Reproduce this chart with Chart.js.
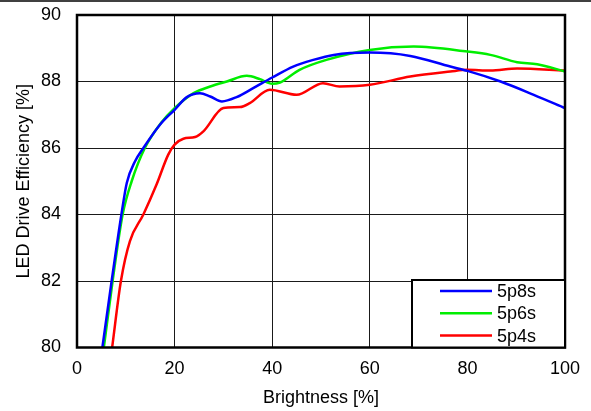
<!DOCTYPE html>
<html lang="en">
<head>
    <meta charset="UTF-8" />
    <title>LED Drive Efficiency</title>
    <script src="https://cdn.jsdelivr.net/npm/chart.js"></script>
    <style>
        body { margin: 0; background: #fff; }
    </style>
</head>
<body>
    <canvas id="effChart" width="591" height="411"></canvas>

    <script>
        // values
        const brightness5p8s = [5.2, 7.1, 9.1, 10.2, 11.9, 13.6, 17.0, 20.0, 22.5, 25.2, 27.3, 29.7, 32.7, 36.1, 40.0, 44.3, 48.4, 52.6, 60.0, 68.3, 76.5, 80.0, 86.8, 93.6, 100];
        const eff5p8s = [80.0, 82.0, 84.0, 84.95, 85.6, 86.0, 86.7, 87.15, 87.53, 87.65, 87.55, 87.4, 87.53, 87.8, 88.12, 88.45, 88.65, 88.8, 88.87, 88.77, 88.45, 88.32, 88.0, 87.6, 87.2];

        const brightness5p6s = [5.5, 7.3, 9.35, 11.2, 13.9, 17.2, 20.0, 23.9, 27.3, 30.7, 34.8, 37.5, 40.0, 41.6, 45.6, 51.1, 60.0, 69.0, 80.0, 84.7, 90.2, 94.3, 100];
        const eff5p6s = [80.0, 82.0, 84.0, 85.0, 86.0, 86.75, 87.2, 87.65, 87.85, 88.0, 88.17, 88.07, 87.93, 87.97, 88.35, 88.65, 88.95, 89.05, 88.9, 88.8, 88.58, 88.52, 88.3];

        const brightness5p4s = [7.2, 9.0, 10.85, 13.6, 16.3, 18.7, 20.0, 21.8, 24.2, 25.9, 30.0, 33.4, 35.4, 39.5, 45.0, 50.4, 53.8, 60.0, 68.3, 76.5, 80.0, 84.7, 90.2, 100];
        const eff5p4s = [80.0, 82.0, 83.2, 84.0, 84.9, 85.8, 86.1, 86.28, 86.33, 86.5, 87.2, 87.23, 87.35, 87.75, 87.6, 87.95, 87.85, 87.9, 88.15, 88.3, 88.35, 88.33, 88.39, 88.33];

        const seriesNames = ['5p8s', '5p6s', '5p4s'];
        const seriesColors = ['#0000ff', '#00ee00', '#ff0000'];
        const xTicks = [0, 20, 40, 60, 80, 100];
        const yTicks = [80, 82, 84, 86, 88, 90];

        const FONT = "'Liberation Sans', Arial, sans-serif";
        const FONT_SIZE = 18;

        function toPoints(xs, ys) {
            return xs.map((x, i) => ({ x: x, y: ys[i] }));
        }

        const allX = [brightness5p8s, brightness5p6s, brightness5p4s];
        const allY = [eff5p8s, eff5p6s, eff5p4s];

        const datasets = seriesNames.map((name, i) => ({
            label: name,
            data: toPoints(allX[i], allY[i]),
            borderColor: seriesColors[i],
            borderWidth: 2.5,
            pointRadius: 0,
            cubicInterpolationMode: 'monotone',
            fill: false
        }));

        // frame, top rule and boxed legend
        const framePlugin = {
            id: 'frame',
            beforeDraw(chart) {
                const ctx = chart.ctx;
                ctx.save();
                ctx.fillStyle = '#fff';
                ctx.fillRect(0, 0, chart.width, chart.height);
                ctx.strokeStyle = '#000';
                ctx.lineWidth = 1.5;
                ctx.beginPath();
                ctx.moveTo(0, 1);
                ctx.lineTo(chart.width, 1);
                ctx.stroke();
                ctx.restore();
            },
            afterDatasetsDraw(chart) {
                const ctx = chart.ctx;
                const a = chart.chartArea;
                ctx.save();
                ctx.strokeStyle = '#000';
                ctx.lineWidth = 2.5;
                ctx.strokeRect(a.left, a.top, a.right - a.left, a.bottom - a.top);

                // legend box in lower right corner
                const bx = 412, by = 280;
                const bw = a.right - bx, bh = a.bottom - by;
                ctx.fillStyle = '#fff';
                ctx.fillRect(bx, by, bw, bh);
                ctx.lineWidth = 2;
                ctx.strokeRect(bx, by, bw, bh);

                ctx.font = FONT_SIZE + 'px ' + FONT;
                ctx.textBaseline = 'middle';
                ctx.textAlign = 'left';
                chart.data.datasets.forEach((ds, i) => {
                    const ly = 291 + i * 22.3;
                    ctx.strokeStyle = ds.borderColor;
                    ctx.lineWidth = 2.5;
                    ctx.beginPath();
                    ctx.moveTo(440, ly);
                    ctx.lineTo(492, ly);
                    ctx.stroke();
                    ctx.fillStyle = '#000';
                    ctx.fillText(ds.label, 497, ly + 1);
                });
                ctx.restore();
            }
        };

        const ctx = document.getElementById('effChart').getContext('2d');
        const effChart = new Chart(ctx, {
            type: 'line',
            data: { datasets: datasets },
            plugins: [framePlugin],
            options: {
                responsive: false,
                animation: false,
                layout: { padding: { top: 15, right: 26, left: 0, bottom: 0 } },
                plugins: {
                    legend: { display: false },
                    tooltip: { enabled: false }
                },
                scales: {
                    x: {
                        type: 'linear',
                        min: 0,
                        max: 100,
                        afterBuildTicks: (scale) => { scale.ticks = xTicks.map(v => ({ value: v })); },
                        afterFit: (scale) => {
                            scale.height = 63.5;
                            scale.paddingLeft = 0;
                            scale.paddingRight = 0;
                        },
                        ticks: { color: '#000', font: { family: FONT, size: FONT_SIZE }, padding: 11 },
                        grid: { color: '#1a1a1a', lineWidth: 1, drawTicks: false },
                        border: { display: false },
                        title: {
                            display: true,
                            text: 'Brightness [%]',
                            color: '#000',
                            font: { family: FONT, size: FONT_SIZE },
                            padding: { top: 0, bottom: 2 }
                        }
                    },
                    y: {
                        min: 80,
                        max: 90,
                        afterBuildTicks: (scale) => { scale.ticks = yTicks.map(v => ({ value: v })); },
                        afterFit: (scale) => {
                            scale.width = 77;
                            scale.paddingTop = 0;
                            scale.paddingBottom = 0;
                        },
                        ticks: { color: '#000', font: { family: FONT, size: FONT_SIZE }, padding: 16 },
                        grid: { color: '#1a1a1a', lineWidth: 1, drawTicks: false },
                        border: { display: false },
                        title: {
                            display: true,
                            text: 'LED Drive Efficiency [%]',
                            color: '#000',
                            font: { family: FONT, size: FONT_SIZE },
                            padding: { top: 13, bottom: 0 }
                        }
                    }
                }
            }
        });
    </script>
</body>
</html>
